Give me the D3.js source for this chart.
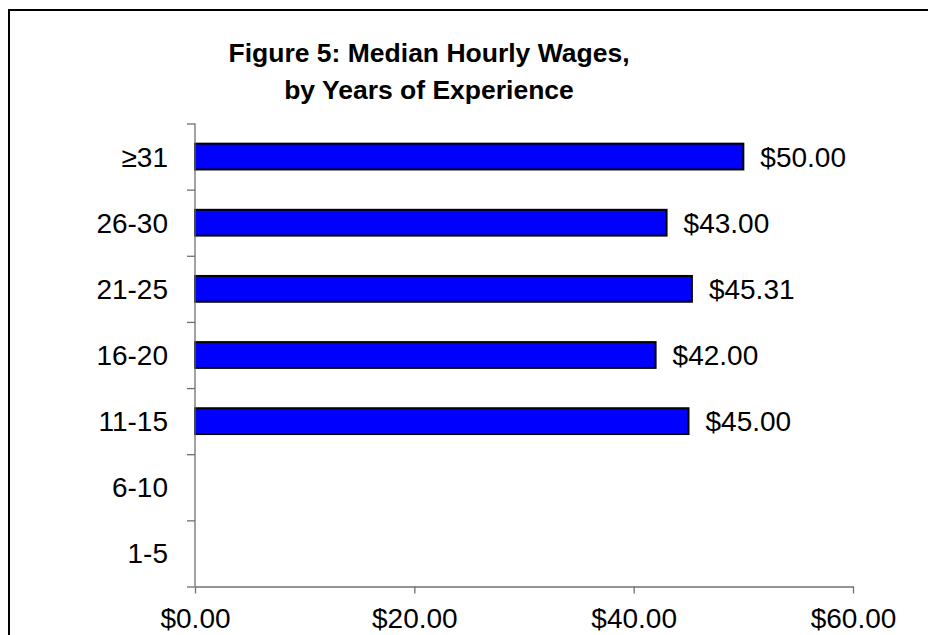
<!DOCTYPE html>
<html>
<head>
<meta charset="utf-8">
<script src="https://cdn.jsdelivr.net/npm/d3@7"></script>
<style>
  body { margin: 0; background: #fff; }
  svg { display: block; }
</style>
</head>
<body>
<svg id="chart"></svg>
<script>
/* data */
var categories = ["≥31", "26-30", "21-25", "16-20", "11-15", "6-10", "1-5"];
var wages = [50.00, 43.00, 45.31, 42.00, 45.00, null, null];
var xTicks = [0, 20, 40, 60];
var titleLines = ["Figure 5: Median Hourly Wages,", "by Years of Experience"];

var FONT = "'Liberation Sans', Arial, sans-serif";

var width = 928,
    height = 635,
    margin = { top: 123.5, left: 195, right: 75, bottom: 48.5 };

var innerWidth = width - margin.left - margin.right;
var innerHeight = height - margin.top - margin.bottom;

var svg = d3.select("#chart")
    .attr("width", width)
    .attr("height", height)
    .attr("font-family", FONT);

/* outer frame (cut off right and bottom) */
svg.append("path")
    .attr("d", "M9," + height + "V10H" + width)
    .attr("fill", "none")
    .attr("stroke", "#000")
    .attr("stroke-width", 2);

/* title */
svg.append("text")
    .attr("text-anchor", "middle")
    .attr("font-size", 26.5)
    .attr("font-weight", "bold")
    .attr("fill", "#000")
    .selectAll("tspan")
    .data(titleLines)
    .enter().append("tspan")
      .attr("x", 429)
      .attr("y", function(d, i) { return 62 + i * 36.5; })
      .text(function(d) { return d; });

var g = svg.append("g")
    .attr("transform", "translate(" + margin.left + "," + margin.top + ")");

/* scales */
var xScale = d3.scaleLinear().domain([0, 60]).range([0, innerWidth]);
var yScale = d3.scaleBand().domain(categories).range([0, innerHeight]).padding(0);
var yEdges = d3.scaleLinear().domain([0, categories.length]).range([0, innerHeight]);

var data = categories.map(function(c, i) { return { cat: c, value: wages[i] }; })
    .filter(function(d) { return d.value != null; });

/* bars */
var barH = yScale.bandwidth() * 0.39;
g.selectAll(".bar")
    .data(data)
    .enter().append("rect")
      .attr("class", "bar")
      .attr("x", 0)
      .attr("y", function(d) { return yScale(d.cat) + (yScale.bandwidth() - barH) / 2; })
      .attr("width", function(d) { return xScale(d.value); })
      .attr("height", barH)
      .attr("fill", "#0000ff")
      .attr("stroke", "#000")
      .attr("stroke-width", 2);

/* value labels */
g.selectAll(".val")
    .data(data)
    .enter().append("text")
      .attr("class", "val")
      .attr("x", function(d) { return xScale(d.value) + 17; })
      .attr("y", function(d) { return yScale(d.cat) + yScale.bandwidth() / 2; })
      .attr("dy", "0.36em")
      .attr("font-size", 28)
      .attr("fill", "#000")
      .text(function(d) { return "$" + d3.format(".2f")(d.value); });

/* y-axis: tick marks at category edges, labels at centres */
g.append("g")
    .attr("class", "y-axis")
    .call(d3.axisLeft(yEdges).ticks(categories.length).tickSize(8).tickFormat(""));

g.append("g")
    .attr("class", "y-labels")
    .call(d3.axisLeft(yScale).tickSize(0).tickPadding(27))
    .call(function(s) { s.select(".domain").remove(); })
    .selectAll(".tick text")
      .attr("text-anchor", "end")
      .attr("dy", 10);

/* x-axis */
g.append("g")
    .attr("class", "x-axis")
    .attr("transform", "translate(0," + innerHeight + ")")
    .call(d3.axisBottom(xScale).tickValues(xTicks).tickSize(7).tickSizeOuter(0).tickPadding(14)
        .tickFormat(function(d) { return "$" + d3.format(".2f")(d); }))
    .selectAll(".tick text")
      .attr("text-anchor", "middle")
      .attr("dy", 20);

g.selectAll(".tick text")
    .attr("fill", "#000")
    .attr("font-size", 28)
    .attr("font-family", FONT);

g.selectAll(".domain, .tick line")
    .attr("stroke", "#707070")
    .attr("stroke-width", 1.3);
g.selectAll(".y-axis .domain")
    .attr("d", "M0,0V" + innerHeight);
</script>
</body>
</html>
